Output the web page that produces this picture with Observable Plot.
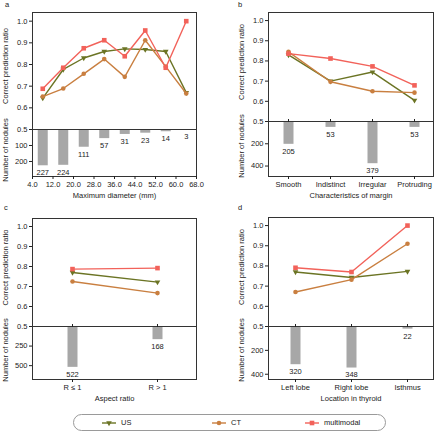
<!DOCTYPE html>
<html><head><meta charset="utf-8">
<script src="https://cdn.jsdelivr.net/npm/d3@7"></script>
<script src="https://cdn.jsdelivr.net/npm/@observablehq/plot@0.6"></script>
<style>
body{margin:0;width:440px;height:434px;position:relative;overflow:hidden;background:#fff;font-family:"Liberation Sans",Arial,sans-serif;color:#222}
.abs{position:absolute}
.letter{position:absolute;font-size:7.5px;line-height:8px}
#legend{position:absolute;left:73px;top:414px;width:313px;height:17px;border:1px solid #9a9a9a;border-radius:9px;box-sizing:border-box}
.item{position:absolute;top:0;height:15px;display:flex;align-items:center;font-size:7.5px}
.item svg{margin-right:5px}
</style></head>
<body>
<script>
// ---- data ----
const seriesNames = ["US", "CT", "multimodal"];
const seriesColors = ["#6b7424", "#c97f40", "#f2625a"];
const seriesSymbols = ["triangle", "circle", "square"];
const ratioTicks = [0.5, 0.6, 0.7, 0.8, 0.9, 1.0];

const diameterMid = [8, 16, 24, 32, 40, 48, 56, 64];
const diameterTicks = [4, 12, 20, 28, 36, 44, 52, 60, 68];
const diameterUS = [0.645, 0.777, 0.83, 0.86, 0.872, 0.869, 0.86, 0.67];
const diameterCT = [0.652, 0.689, 0.757, 0.825, 0.743, 0.912, 0.79, 0.666];
const diameterMM = [0.688, 0.785, 0.875, 0.912, 0.838, 0.957, 0.785, 1.0];
const diameterCount = [227, 224, 111, 57, 31, 23, 14, 3];
const diameterCountTicks = [100, 200];

const marginCats = ["Smooth", "Indistinct", "Irregular", "Protruding"];
const marginUS = [0.83, 0.70, 0.745, 0.605];
const marginCT = [0.845, 0.697, 0.65, 0.643];
const marginMM = [0.836, 0.812, 0.773, 0.679];
const marginCount = [205, 53, 379, 53];
const marginCountTicks = [200, 400];

const aspectCats = ["R ≤ 1", "R > 1"];
const aspectUS = [0.77, 0.722];
const aspectCT = [0.725, 0.667];
const aspectMM = [0.787, 0.792];
const aspectCount = [522, 168];
const aspectCountTicks = [250, 500];

const locationCats = ["Left lobe", "Right lobe", "Isthmus"];
const locationUS = [0.77, 0.743, 0.773];
const locationCT = [0.671, 0.732, 0.91];
const locationMM = [0.791, 0.77, 1.0];
const locationCount = [320, 348, 22];
const locationCountTicks = [200, 400];

// ---- drawing ----
const baseStyle = {fontFamily: "'Liberation Sans', Arial, sans-serif", fontSize: "7.5px", color: "#222", background: "none", overflow: "visible"};

function place(node, left, top) {
  const d = document.createElement("div");
  d.className = "abs";
  d.style.left = left + "px";
  d.style.top = top + "px";
  d.appendChild(node);
  document.body.appendChild(d);
}

function panel(p) {
  const valueSets = [p.us, p.ct, p.mm];
  const long = seriesNames.flatMap((s, k) => p.xs.map((x, i) => ({x, y: valueSets[k][i], s})));
  const rows = p.xs.map((x, i) => ({x, count: p.counts[i]}));
  const xOpts = p.linear
    ? {domain: p.xDomain, axis: null}
    : {type: "point", domain: p.xs, padding: 0.46, axis: null};

  const seriesMarks = seriesNames.flatMap((s, k) => {
    const d = long.filter(r => r.s === s);
    return [
      Plot.line(d, {x: "x", y: "y", stroke: seriesColors[k], strokeWidth: 1.4}),
      Plot.dot(d, {x: "x", y: "y", fill: seriesColors[k], stroke: "none", symbol: seriesSymbols[k],
        r: k === 0 ? 2.1 : (k === 1 ? 2.3 : 2.6), rotate: k === 0 ? 180 : 0})
    ];
  });

  const topSvg = Plot.plot({
    width: 220, height: p.divider - p.frameTop + 12,
    marginTop: 12, marginBottom: 0, marginLeft: p.ml, marginRight: p.mr,
    x: xOpts,
    y: {domain: [0.5, 1.04], axis: null},
    style: baseStyle,
    marks: [
      ...seriesMarks,
      Plot.frame({stroke: "#333"}),
      Plot.axisY({ticks: ratioTicks, tickFormat: ".1f", tickSize: 3, tickPadding: 2, label: null}),
      Plot.text(["Correct prediction ratio"], {frameAnchor: "left", textAnchor: "middle", lineAnchor: "middle", rotate: -90, dx: -26.5, dy: -5})
    ]
  });
  place(topSvg, p.left, p.frameTop - 12);

  const bottomSvg = Plot.plot({
    width: 220, height: p.frameBottom - p.divider + 28,
    marginTop: 0, marginBottom: 28, marginLeft: p.ml, marginRight: p.mr,
    x: xOpts,
    y: {domain: [0, p.countMax], reverse: true, axis: null},
    style: baseStyle,
    marks: [
      Plot.ruleX(rows, {x: "x", y1: 0, y2: "count", stroke: "#a7a7a7", strokeWidth: 10}),
      Plot.text(rows, {x: "x", y: "count", text: "count", dy: 7}),
      Plot.frame({stroke: "#333"}),
      Plot.axisY({ticks: p.countTicks, tickSize: 3, tickPadding: 2, label: null}),
      p.linear
        ? Plot.axisX({ticks: p.xTicks, tickFormat: ".1f", tickSize: 3, tickPadding: 2, label: null})
        : Plot.axisX({tickSize: 3, tickPadding: 2, label: null}),
      p.linear ? null : Plot.axisX({anchor: "top", tickSize: 3, tickFormat: () => "", label: null}),
      Plot.text(["Number of nodules"], {frameAnchor: "left", textAnchor: "middle", lineAnchor: "middle", rotate: -90, dx: -26.5, dy: -3}),
      Plot.text([p.xTitle], {frameAnchor: "bottom", dy: 21})
    ]
  });
  place(bottomSvg, p.left, p.divider);

  const l = document.createElement("div");
  l.className = "letter";
  l.textContent = p.letter;
  l.style.left = p.letterX + "px";
  l.style.top = p.letterY + "px";
  document.body.appendChild(l);
}

panel({letter: "a", letterX: 5, letterY: 1, left: 0, ml: 32, mr: 24, frameTop: 12, divider: 129, frameBottom: 176,
  linear: true, xDomain: [4, 68], xTicks: diameterTicks, xs: diameterMid,
  us: diameterUS, ct: diameterCT, mm: diameterMM, counts: diameterCount, countMax: 294, countTicks: diameterCountTicks,
  xTitle: "Maximum diameter (mm)"});
panel({letter: "b", letterX: 238, letterY: 1, left: 220, ml: 48, mr: 7, frameTop: 12, divider: 121, frameBottom: 176,
  linear: false, xs: marginCats,
  us: marginUS, ct: marginCT, mm: marginMM, counts: marginCount, countMax: 494, countTicks: marginCountTicks,
  xTitle: "Characteristics of margin"});
panel({letter: "c", letterX: 4, letterY: 204, left: 0, ml: 32, mr: 24, frameTop: 218, divider: 326, frameBottom: 379,
  linear: false, xs: aspectCats,
  us: aspectUS, ct: aspectCT, mm: aspectMM, counts: aspectCount, countMax: 677, countTicks: aspectCountTicks,
  xTitle: "Aspect ratio"});
panel({letter: "d", letterX: 238, letterY: 204, left: 220, ml: 48, mr: 7, frameTop: 217, divider: 326, frameBottom: 379,
  linear: false, xs: locationCats,
  us: locationUS, ct: locationCT, mm: locationMM, counts: locationCount, countMax: 444, countTicks: locationCountTicks,
  xTitle: "Location in thyroid"});

// ---- legend ----
const legend = document.createElement("div");
legend.id = "legend";
document.body.appendChild(legend);
const legendX = [28, 138, 231];
seriesNames.forEach((name, k) => {
  const item = document.createElement("div");
  item.className = "item";
  item.style.left = legendX[k] + "px";
  const ns = "http://www.w3.org/2000/svg";
  const svg = document.createElementNS(ns, "svg");
  svg.setAttribute("width", 14); svg.setAttribute("height", 8);
  const line = document.createElementNS(ns, "line");
  line.setAttribute("x1", 0); line.setAttribute("x2", 14); line.setAttribute("y1", 4); line.setAttribute("y2", 4);
  line.setAttribute("stroke", seriesColors[k]); line.setAttribute("stroke-width", 1.4);
  svg.appendChild(line);
  const path = document.createElementNS(ns, "path");
  const r = k === 0 ? 2.1 : (k === 1 ? 2.3 : 2.6);
  const sym = {triangle: d3.symbolTriangle, circle: d3.symbolCircle, square: d3.symbolSquare}[seriesSymbols[k]];
  path.setAttribute("d", d3.symbol(sym, Math.PI * r * r)());
  path.setAttribute("transform", `translate(7,4)${k === 0 ? " rotate(180)" : ""}`);
  path.setAttribute("fill", seriesColors[k]);
  svg.appendChild(path);
  item.appendChild(svg);
  const t = document.createElement("span");
  t.textContent = name;
  item.appendChild(t);
  legend.appendChild(item);
});
</script>
</body></html>
